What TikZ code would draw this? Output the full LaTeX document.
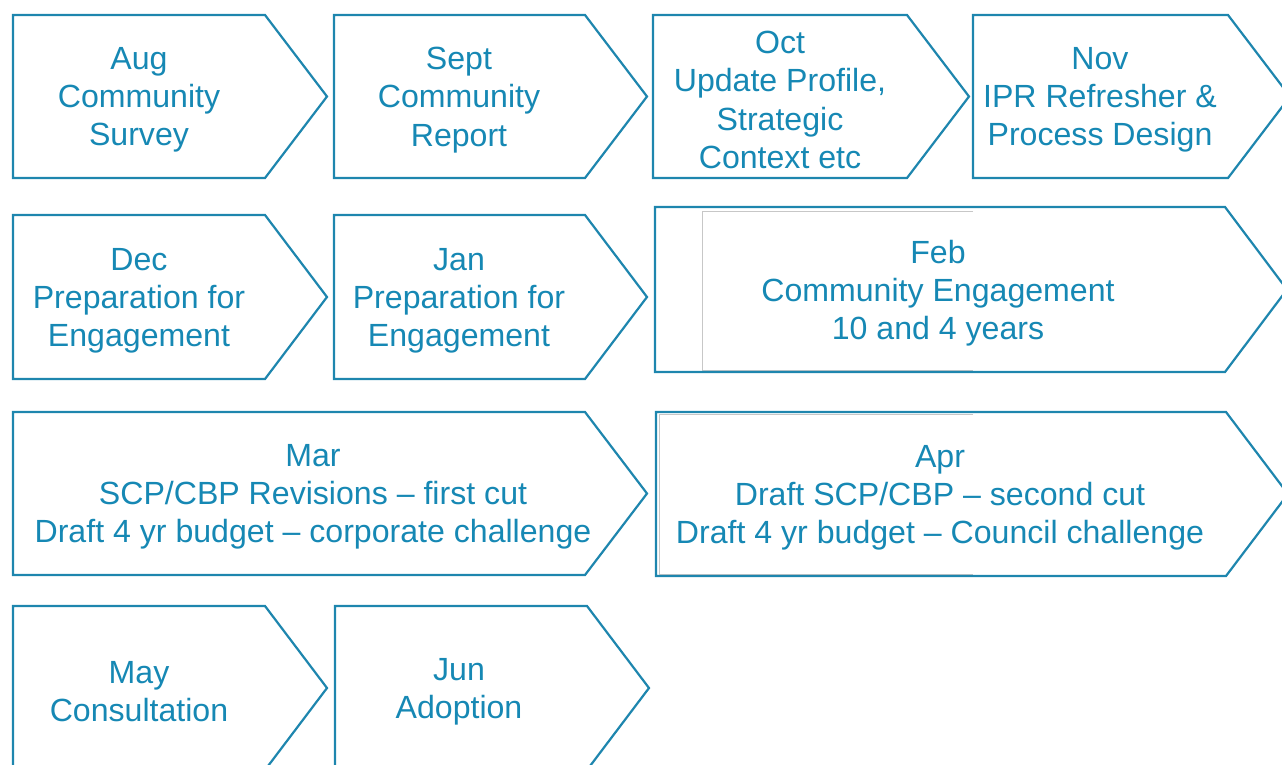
\documentclass[tikz,border=0pt]{standalone}
\usepackage{fontspec}
\setmainfont{Liberation Sans}
\definecolor{stageblue}{RGB}{30,134,174}
\definecolor{stagetextblue}{RGB}{22,136,180}
\tikzset{
    stageline/.style={draw=stageblue, line width=2.2pt, line join=miter},
    stagetext/.style={text=stagetextblue, align=center, inner sep=0pt,
        font=\fontsize{32.1}{38.2}\selectfont},
    pasteedge/.style={draw=black!22, line width=1pt}
}
% #1 name, #2 left, #3 top, #4 right of body, #5 bottom, #6 text x, #7 text
\newcommand{\stage}[7]{%
    \draw[stageline] (#2,#3) -- (#4,#3) -- ({#4+62},{(#3+#5)/2}) -- (#4,#5) -- (#2,#5) -- cycle;
    \node[stagetext] (#1) at (#6,{(#3+#5)/2+3.5}) {#7};
}
\begin{document}
\begin{tikzpicture}[x=1pt, y=-1pt]
    \useasboundingbox (0,0) rectangle (1282,764);
    \clip (0,0) rectangle (1282,764);

    % first row
    \stage{aug}{13}{15}{265}{178}{139}{Aug\\Community\\Survey}
    \stage{sept}{334}{15}{585}{178}{459}{Sept\\Community\\Report}
    \stage{oct}{653}{15}{907}{178}{780}{Oct\\Update Profile,\\Strategic\\Context etc}
    \stage{nov}{973}{15}{1228}{178}{1100}{Nov\\IPR Refresher \&\\Process Design}

    % second row
    \stage{dec}{13}{215}{265}{379}{139}{Dec\\Preparation for\\Engagement}
    \stage{jan}{334}{215}{585}{379}{459}{Jan\\Preparation for\\Engagement}
    \draw[pasteedge] (973,211) -- (702,211) -- (702,370) -- (973,370);
    \stage{feb}{655}{207}{1225}{372}{938}{Feb\\Community Engagement\\10 and 4 years}

    % third row
    \stage{mar}{13}{412}{585}{575}{313}{Mar\\SCP/CBP Revisions -- first cut\\Draft 4 yr budget -- corporate challenge}
    \draw[pasteedge] (973,414) -- (659,414) -- (659,574) -- (973,574);
    \stage{apr}{656}{412}{1226}{576}{940}{Apr\\Draft SCP/CBP -- second cut\\Draft 4 yr budget -- Council challenge}

    % last row runs off the page
    \stage{may}{13}{606}{265}{770}{139}{May\\Consultation}
    \stage{jun}{335}{606}{587}{770}{459}{Jun\\Adoption}
\end{tikzpicture}
\end{document}
